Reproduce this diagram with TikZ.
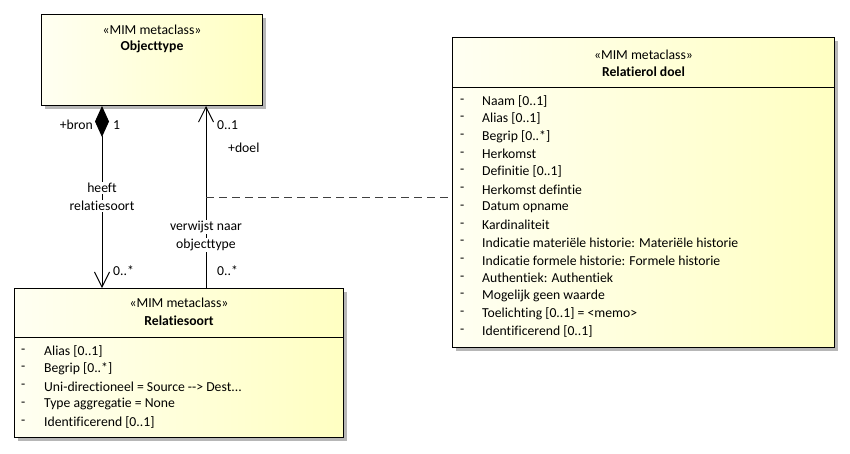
\documentclass[tikz,border=0pt]{standalone}
\usepackage{fontspec}
\setmainfont[Ligatures={NoCommon}]{Carlito}
\usetikzlibrary{arrows.meta,shadows,calc}
\definecolor{cl}{HTML}{FFFFF2}
\definecolor{cr}{HTML}{FFFFC2}
\newcommand\rsitem[3]{%
  \node[txt, anchor=west] (rsd#1) at ($(rs.north west)+(7,63+17.8*#2)$) {-};
  \node[txt, anchor=west] (rsa#1) at ($(rs.north west)+(30,63+17.8*#2)$) {#3};}
\newcommand\rditem[3]{%
  \node[txt, anchor=west] (rdd#1) at ($(rd.north west)+(8,64+17.7*#2)$) {-};
  \node[txt, anchor=west] (rda#1) at ($(rd.north west)+(30,64+17.7*#2)$) {#3};}
\begin{document}
\begin{tikzpicture}[x=1pt,y=-1pt,
  cls/.style={draw=black, line width=1pt, left color=cl, right color=cr, anchor=north west, inner sep=0pt,
    drop shadow={shadow xshift=3pt,shadow yshift=-3pt,fill=black!40,opacity=0.7}},
  txt/.style={font=\fontsize{13.7}{15}\selectfont, inner sep=0pt, text=black},
  ttl/.style={txt, font=\fontsize{13.7}{15}\selectfont\bfseries},
  lbl/.style={txt},
  wlbl/.style={txt, fill=white, inner sep=1pt},
  conn/.style={line width=1pt, draw=black},
  barb/.tip={Straight Barb[length=15pt,width=15pt,line width=1pt]},
  dia/.tip={Diamond[length=31pt,width=14pt,fill=black]}
]
\useasboundingbox (0,0) rectangle (850,453);
\fill[white] (0,0) rectangle (850,453);

% classes
\node[cls, minimum width=221pt, minimum height=91pt] (ot) at (41,14) {};
\node[cls, minimum width=329pt, minimum height=149pt] (rs) at (14,288) {};
\node[cls, minimum width=382pt, minimum height=310pt] (rd) at (452,37) {};

% Objecttype
\node[txt] (ots) at ($(ot.north)+(0,16)$) {«MIM metaclass»};
\node[ttl] (ott) at ($(ot.north)+(0,33)$) {Objecttype};

% Relatiesoort
\node[txt] (rss) at ($(rs.north)+(0,15)$) {«MIM metaclass»};
\node[ttl] (rst) at ($(rs.north)+(0,33)$) {Relatiesoort};
\draw[line width=1pt] ($(rs.north west)+(0,49)$) -- ($(rs.north east)+(0,49)$);
\rsitem{a}{0}{Alias [0..1]}
\rsitem{b}{1}{Begrip [0..*]}
\rsitem{c}{2}{Uni-directioneel = Source -{}-> Dest...}
\rsitem{d}{3}{Type aggregatie = None}
\rsitem{e}{4}{Identificerend [0..1]}

% Relatierol doel
\node[txt] (rds) at ($(rd.north)+(0,18)$) {«MIM metaclass»};
\node[ttl] (rdt) at ($(rd.north)+(0,35)$) {Relatierol doel};
\draw[line width=1pt] ($(rd.north west)+(0,50)$) -- ($(rd.north east)+(0,50)$);
\rditem{a}{0}{Naam [0..1]}
\rditem{b}{1}{Alias [0..1]}
\rditem{c}{2}{Begrip [0..*]}
\rditem{d}{3}{Herkomst}
\rditem{e}{4}{Definitie [0..1]}
\rditem{f}{5}{Herkomst defintie}
\rditem{g}{6}{Datum opname}
\rditem{h}{7}{Kardinaliteit}
\rditem{i}{8}{Indicatie materiële historie: Materiële historie}
\rditem{j}{9}{Indicatie formele historie: Formele historie}
\rditem{k}{10}{Authentiek: Authentiek}
\rditem{l}{11}{Mogelijk geen waarde}
\rditem{m}{12}{Toelichting [0..1] = <memo>}
\rditem{n}{13}{Identificerend [0..1]}

% connectors
\coordinate (L) at (102,0);
\coordinate (R) at (206,0);
\coordinate (D) at (206,197);
\draw[conn, {dia}-{barb}] (ot.south -| L) -- (rs.north -| L);
\draw[conn, -{barb}] (rs.north -| R) -- (ot.south -| R);
\draw[line width=1pt, draw=black!75, dash pattern=on 8pt off 5pt] (D) -- (rd.west |- D);

% labels
\node[lbl, anchor=east] (lb1) at (93,125) {+bron};
\node[lbl, anchor=west] (lb2) at (113,125) {1};
\node[wlbl] (lb3) at (102,188) {heeft};
\node[wlbl] (lb4) at (102,206) {relatiesoort};
\node[lbl, anchor=west] (lb5) at (113,271) {0..*};
\node[lbl, anchor=west] (lb6) at (217,125) {0..1};
\node[lbl, anchor=west] (lb7) at (228,148) {+doel};
\node[wlbl] (lb8) at (206,227) {verwijst naar};
\node[wlbl] (lb9) at (206,245) {objecttype};
\node[lbl, anchor=west] (lb10) at (217,271) {0..*};
\end{tikzpicture}
\end{document}
